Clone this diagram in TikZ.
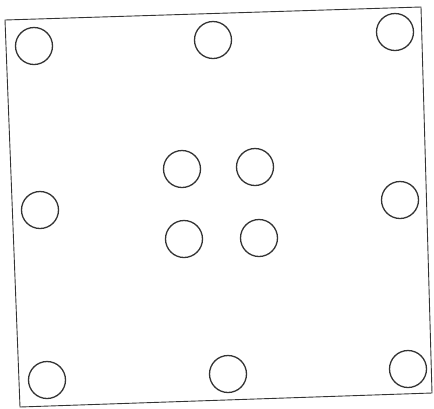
\documentclass[tikz,border=0pt]{standalone}
\begin{document}
\begin{tikzpicture}[x=1pt,y=-1pt,
  hole/.style={circle,draw=black!80,line width=1.3pt,minimum size=37pt,inner sep=0pt},
  frame/.style={draw=black!80,line width=0.9pt}]
\useasboundingbox (0,0) rectangle (434,408);
\coordinate (c1) at (5,20);
\coordinate (c2) at (421,7);
\coordinate (c3) at (432,393);
\coordinate (c4) at (20,407);
\draw[frame] (c1) -- (c2) -- (c3) -- (c4) -- cycle;
\node[hole] (tl) at (34,46) {};
\node[hole] (tm) at (213,40) {};
\node[hole] (tr) at (395,32) {};
\node[hole] (ml) at (40,210) {};
\node[hole] (mr) at (400,200) {};
\node[hole] (bl) at (47,380) {};
\node[hole] (bm) at (228,374) {};
\node[hole] (br) at (408,369) {};
\node[hole] (i1) at (182,169) {};
\node[hole] (i2) at (255,167) {};
\node[hole] (i3) at (184,239) {};
\node[hole] (i4) at (259,238) {};
\end{tikzpicture}
\end{document}
